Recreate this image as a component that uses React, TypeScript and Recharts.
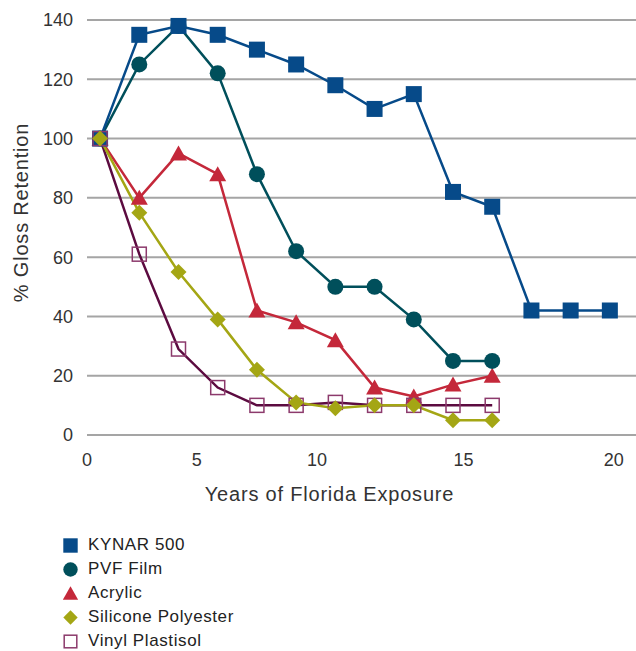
import React from "react";
import { LineChart, Line, XAxis, YAxis, CartesianGrid } from "recharts";

// years of exposure (every 1.5 years)
const years = [0.5, 2, 3.5, 5, 6.5, 8, 9.5, 11, 12.5, 14, 15.5, 17, 18.5, 20];

const kynar = [100, 135, 138, 135, 130, 125, 118, 110, 115, 82, 77, 42, 42, 42];
const pvf = [100, 125, 138, 122, 88, 62, 50, 50, 39, 25, 25];
const acrylic = [100, 80, 95, 88, 42, 38, 32, 16, 13, 17, 20];
const silicone = [100, 75, 55, 39, 22, 11, 9, 10, 10, 5, 5];
const vinyl = [100, 61, 29, 16, 10, 10, 11, 10, 10, 10, 10];

const yTicks = [0, 20, 40, 60, 80, 100, 120, 140];
// tick labels sit where the original artwork put them
const xTickPos = [0, 4.2, 8.8, 14.4, 20.15];
const xTickLabels = ["0", "5", "10", "15", "20"];

const colors = {
  kynar: "#064a89",
  pvf: "#004f5b",
  acrylic: "#c4283a",
  silicone: "#a4a614",
  vinyl: "#5c0b40",
  vinylMark: "#8c3a6c",
};

const rows = years.map((year, i) => ({
  year,
  kynar: kynar[i],
  pvf: pvf[i],
  acrylic: acrylic[i],
  silicone: silicone[i],
  vinyl: vinyl[i],
}));

const FONT = "'Liberation Sans', Arial, sans-serif";

const Marker = ({ kind, cx, cy, size = 1 }: any) => {
  if (cx == null || cy == null || isNaN(cy)) return null;
  switch (kind) {
    case "square":
      return <rect x={cx - 8 * size} y={cy - 8 * size} width={16 * size} height={16 * size} fill={colors.kynar} />;
    case "circle":
      return <circle cx={cx} cy={cy} r={8 * size} fill={colors.pvf} />;
    case "triangle":
      return (
        <polygon
          points={`${cx},${cy - 8 * size} ${cx + 8.5 * size},${cy + 7 * size} ${cx - 8.5 * size},${cy + 7 * size}`}
          fill={colors.acrylic}
        />
      );
    case "diamond":
      return (
        <polygon
          points={`${cx},${cy - 8 * size} ${cx + 8 * size},${cy} ${cx},${cy + 8 * size} ${cx - 8 * size},${cy}`}
          fill={colors.silicone}
        />
      );
    case "hollow":
      return (
        <rect
          x={cx - 7 * size}
          y={cy - 7 * size}
          width={14 * size}
          height={14 * size}
          fill="none"
          stroke={colors.vinylMark}
          strokeWidth={1.5}
        />
      );
  }
  return null;
};

const dotOf = (kind: string) => (props: any) =>
  <Marker key={`${kind}-${props.index}`} kind={kind} cx={props.cx} cy={props.cy} />;

const legendItems = [
  { name: "KYNAR 500", kind: "square" },
  { name: "PVF Film", kind: "circle" },
  { name: "Acrylic", kind: "triangle" },
  { name: "Silicone Polyester", kind: "diamond" },
  { name: "Vinyl Plastisol", kind: "hollow" },
];

const App = () => {
  return (
    <div style={{ position: "absolute", left: 0, top: 0, width: 636, height: 651, fontFamily: FONT, background: "#fff" }}>
      <LineChart width={636} height={520} data={rows} margin={{ top: 20, right: 0, bottom: 55, left: 0 }}>
        <CartesianGrid vertical={false} stroke="#a5a5a5" strokeWidth={2} />
        <XAxis
          type="number"
          dataKey="year"
          domain={[0, 21]}
          ticks={xTickPos}
          interval={0}
          tickFormatter={(v: number, i: number) => xTickLabels[i]}
          axisLine={false}
          tickLine={false}
          tickMargin={12}
          tick={{ fontSize: 18, fill: "#333", fontFamily: FONT }}
          label={{
            content: ({ viewBox }: any) => (
              <text
                x={viewBox.x + viewBox.width / 2 - 32}
                y={viewBox.y + 66}
                textAnchor="middle"
                fontSize={20}
                letterSpacing={0.8}
                fill="#333"
                fontFamily={FONT}
              >
                Years of Florida Exposure
              </text>
            ),
          }}
        />
        <YAxis
          type="number"
          domain={[0, 140]}
          ticks={yTicks}
          width={87}
          axisLine={false}
          tickLine={false}
          tickMargin={8}
          tick={{ fontSize: 18, fill: "#333", fontFamily: FONT }}
          label={{
            content: ({ viewBox }: any) => {
              const cx = 21;
              const cy = viewBox.y + viewBox.height / 2 - 15;
              return (
                <text
                  x={cx}
                  y={cy}
                  textAnchor="middle"
                  dominantBaseline="central"
                  transform={`rotate(-90, ${cx}, ${cy})`}
                  fontSize={20}
                  letterSpacing={0.8}
                  fill="#333"
                  fontFamily={FONT}
                >
                  % Gloss Retention
                </text>
              );
            },
          }}
        />
        <Line type="linear" dataKey="acrylic" stroke={colors.acrylic} strokeWidth={2.5} dot={dotOf("triangle")} isAnimationActive={false} />
        <Line type="linear" dataKey="pvf" stroke={colors.pvf} strokeWidth={2.5} dot={dotOf("circle")} isAnimationActive={false} />
        <Line type="linear" dataKey="kynar" stroke={colors.kynar} strokeWidth={2.5} dot={dotOf("square")} isAnimationActive={false} />
        <Line type="linear" dataKey="vinyl" stroke={colors.vinyl} strokeWidth={2.5} dot={dotOf("hollow")} isAnimationActive={false} />
        <Line type="linear" dataKey="silicone" stroke={colors.silicone} strokeWidth={2.5} dot={dotOf("diamond")} isAnimationActive={false} />
      </LineChart>
      <div style={{ position: "absolute", left: 62, top: 533 }}>
        {legendItems.map((item) => (
          <div key={item.name} style={{ display: "flex", alignItems: "center", height: 24 }}>
            <svg width={17} height={17} style={{ marginRight: 9 }}>
              <Marker kind={item.kind} cx={8.5} cy={8.5} size={0.9} />
            </svg>
            <span style={{ fontSize: 17, color: "#222", letterSpacing: 0.6 }}>{item.name}</span>
          </div>
        ))}
      </div>
    </div>
  );
};

export default App;
